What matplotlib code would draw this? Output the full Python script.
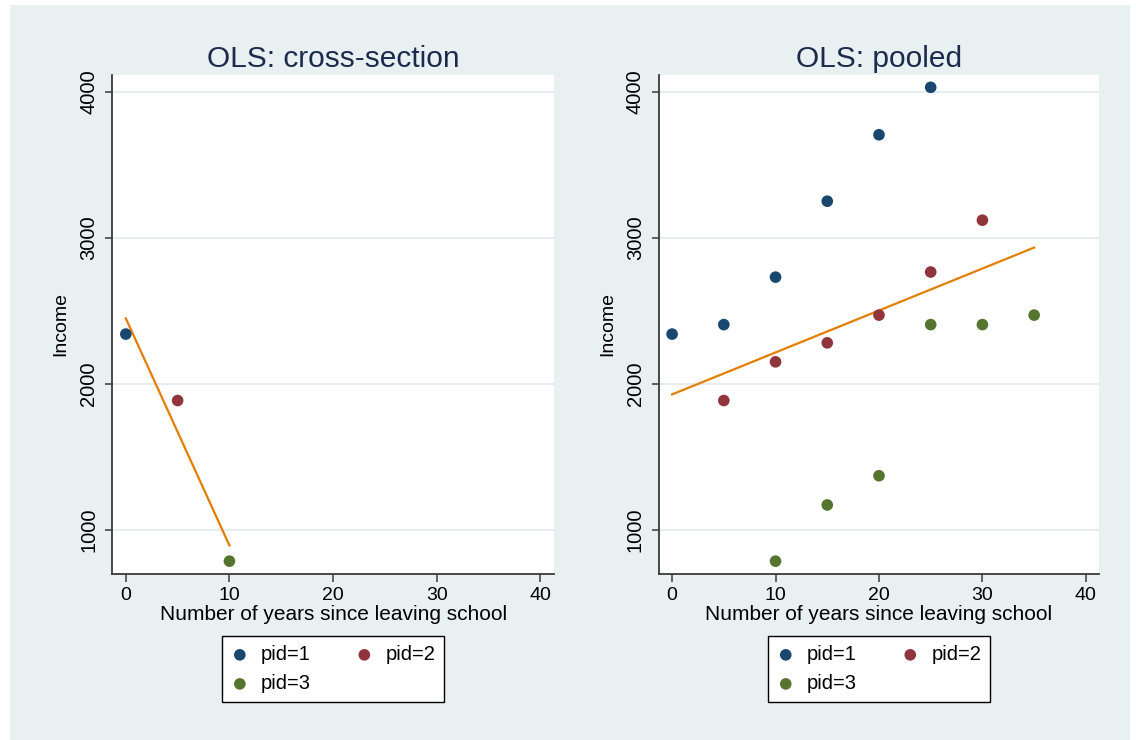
import numpy as np
import matplotlib
matplotlib.use("Agg")
import matplotlib.pyplot as plt
from matplotlib.patches import Rectangle

plt.rcParams["font.family"] = ["Liberation Sans", "DejaVu Sans"]

# values
years_pid1 = [0, 5, 10, 15, 20, 25]
income_pid1 = [2340, 2405, 2730, 3250, 3705, 4030]
years_pid2 = [5, 10, 15, 20, 25, 30]
income_pid2 = [1885, 2150, 2280, 2470, 2765, 3120]
years_pid3 = [10, 15, 20, 25, 30, 35]
income_pid3 = [785, 1170, 1370, 2405, 2405, 2470]

labels = ["pid=1", "pid=2", "pid=3"]
colors = ["#1a476f", "#90353b", "#55752f"]
fit_color = "#e37e00"
bg = "#e8f0f2"
grid_col = "#e4ecef"
title_col = "#1c2b4c"

x_ticks = [0, 10, 20, 30, 40]
y_ticks = [1000, 2000, 3000, 4000]

all_years = [years_pid1, years_pid2, years_pid3]
all_income = [income_pid1, income_pid2, income_pid3]

# cross-section: first observation of every person
cs_years = [[y[0]] for y in all_years]
cs_income = [[v[0]] for v in all_income]


def panel(ax, xs, ys, title):
    ax.set_facecolor("white")
    handles = []
    for x, y, c, lab in zip(xs, ys, colors, labels):
        h = ax.scatter(x, y, s=70, color=c, label=lab, zorder=3,
                       edgecolors="none")
        handles.append(h)

    # OLS line over the drawn points
    xx = np.concatenate([np.asarray(v, float) for v in xs])
    yy = np.concatenate([np.asarray(v, float) for v in ys])
    b, a = np.polyfit(xx, yy, 1)
    xl = np.array([xx.min(), xx.max()])
    ax.plot(xl, a + b * xl, color=fit_color, lw=1.6, zorder=2)

    ax.set_xlim(-1.3, 41.3)
    ax.set_ylim(699, 4114)
    ax.set_xticks(x_ticks)
    ax.set_yticks(y_ticks)
    ax.grid(axis="y", color=grid_col, lw=1.3, zorder=0)
    ax.set_axisbelow(True)

    for s in ["top", "right"]:
        ax.spines[s].set_visible(False)
    for s in ["left", "bottom"]:
        ax.spines[s].set_color("#3a3a3a")
        ax.spines[s].set_linewidth(1.3)

    ax.tick_params(axis="x", length=5.5, width=1.1, color="#3a3a3a",
                   labelsize=14, pad=4)
    ax.tick_params(axis="y", length=5, width=1.1, color="#3a3a3a",
                   labelsize=14.5, pad=5)
    for t in ax.get_yticklabels():
        t.set_rotation(90)
        t.set_va("center")

    ax.set_title(title, fontsize=21.5, color=title_col, pad=6)
    ax.set_xlabel("Number of years since leaving school", fontsize=15,
                  labelpad=1)
    ax.set_ylabel("Income", fontsize=14, labelpad=7)

    # Stata-like row order: pid=1, pid=2 / pid=3
    order = [0, 2, 1]
    leg = ax.legend([handles[i] for i in order], [labels[i] for i in order],
                    ncol=2, loc="upper center",
                    bbox_to_anchor=(0.5, -0.125), fontsize=14.5,
                    frameon=True, fancybox=False, framealpha=1,
                    edgecolor="black", handlelength=0.9, handletextpad=0.6,
                    columnspacing=2.2, borderpad=0.45, labelspacing=0.5,
                    borderaxespad=0, markerscale=1.0)
    leg.get_frame().set_linewidth(1.0)


fig = plt.figure(figsize=(11.36, 7.4), dpi=100)
fig.patch.set_facecolor("white")
fig.patches.append(Rectangle((10 / 1136, 0), 1120 / 1136, 735 / 740,
                             transform=fig.transFigure, facecolor=bg,
                             edgecolor="none", zorder=-10))

ax1 = fig.add_axes([0.0989, 0.2247, 0.3886, 0.6739])
ax2 = fig.add_axes([0.5798, 0.2247, 0.3879, 0.6739])

panel(ax1, cs_years, cs_income, "OLS: cross-section")
panel(ax2, all_years, all_income, "OLS: pooled")

fig.savefig("out.png", dpi=100, facecolor=fig.get_facecolor())
